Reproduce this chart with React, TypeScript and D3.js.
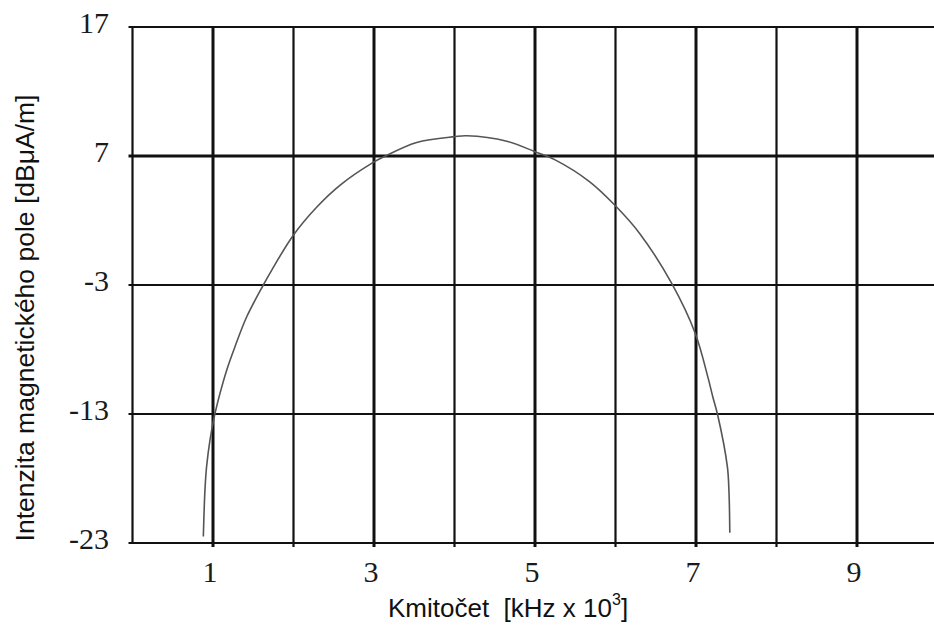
import React from "react";
import * as d3 from "d3";

const xTicks = [1, 3, 5, 7, 9];
const xGrid = [1, 2, 3, 4, 5, 6, 7, 8, 9];
const yTicks = [17, 7, -3, -13, -23];
const yTickLabels = ["17", "7", "-3", "-13", "-23"];

const freq = [0.88, 0.90, 0.92, 0.963, 1.02, 1.087, 1.17, 1.273, 1.419, 1.625, 1.73, 2.00, 2.29, 2.58, 2.97, 3.11, 3.53, 4.00, 4.15, 4.65, 5.00, 5.25, 5.68, 5.99, 6.30, 6.70, 6.99, 7.15, 7.21, 7.27, 7.39, 7.41, 7.42];
const field = [-22.5, -18.9, -17.1, -15.0, -13.1, -11.4, -9.6, -7.78, -5.46, -3.0, -1.84, 0.88, 3.05, 4.75, 6.43, 6.9, 8.05, 8.5, 8.57, 8.15, 7.33, 6.7, 5.0, 3.2, 1.0, -2.9, -6.74, -10.2, -11.7, -13.1, -17.1, -19.1, -22.2];

const W = 934;
const H = 633;

export default function App() {
  const x = d3.scaleLinear().domain([0, 10]).range([132.5, 937.5]);
  const y = d3.scaleLinear().domain([-23, 17]).range([543, 27]);
  const pts: [number, number][] = freq.map((f, i) => [f, field[i]]);
  const line = d3
    .line<[number, number]>()
    .x((d) => x(d[0]))
    .y((d) => y(d[1]))
    .curve(d3.curveCatmullRom.alpha(0.5));
  const serif = "'Liberation Serif', 'Times New Roman', serif";
  const sans = "'Liberation Sans', Arial, sans-serif";
  return (
    <svg
      width={W}
      height={H}
      style={{ position: "absolute", left: 0, top: 0, background: "#fff" }}
    >
      {yTicks.map((t) => (
        <line
          key={"h" + t}
          x1={x(0) - 4}
          x2={W}
          y1={y(t)}
          y2={y(t)}
          stroke="#111"
          strokeWidth={t === 7 ? 3 : 2.2}
        />
      ))}
      {xGrid.map((t) => (
        <line
          key={"v" + t}
          x1={x(t)}
          x2={x(t)}
          y1={y(17)}
          y2={y(-23) + 4}
          stroke="#111"
          strokeWidth={t % 2 === 1 ? 3 : 2.2}
        />
      ))}
      <line x1={x(0)} x2={x(0)} y1={y(17)} y2={y(-23)} stroke="#111" strokeWidth={2.2} />
      <path d={line(pts) || ""} fill="none" stroke="#555" strokeWidth={1.6} />
      {yTicks.map((t, i) => (
        <text
          key={"yl" + t}
          x={109}
          y={y(t) - 5}
          dy="0.35em"
          textAnchor="end"
          fontFamily={serif}
          fontSize={30}
          fill="#1a1a1a"
        >
          {yTickLabels[i]}
        </text>
      ))}
      {xTicks.map((t) => (
        <text
          key={"xl" + t}
          x={x(t) - 3}
          y={582}
          textAnchor="middle"
          fontFamily={serif}
          fontSize={30}
          fill="#1a1a1a"
        >
          {t}
        </text>
      ))}
      <text
        x={388}
        y={617}
        fontFamily={sans}
        fontSize={26}
        fill="#111"
        style={{ whiteSpace: "pre" }}
      >
        {"Kmitočet  [kHz x 10"}
        <tspan fontSize={16} dy={-12}>3</tspan>
        <tspan dy={12}>]</tspan>
      </text>
      <text
        transform={`translate(34, 318) rotate(-90)`}
        textAnchor="middle"
        fontFamily={sans}
        fontSize={26.5}
        fill="#111"
      >
        Intenzita magnetického pole [dBμA/m]
      </text>
    </svg>
  );
}
